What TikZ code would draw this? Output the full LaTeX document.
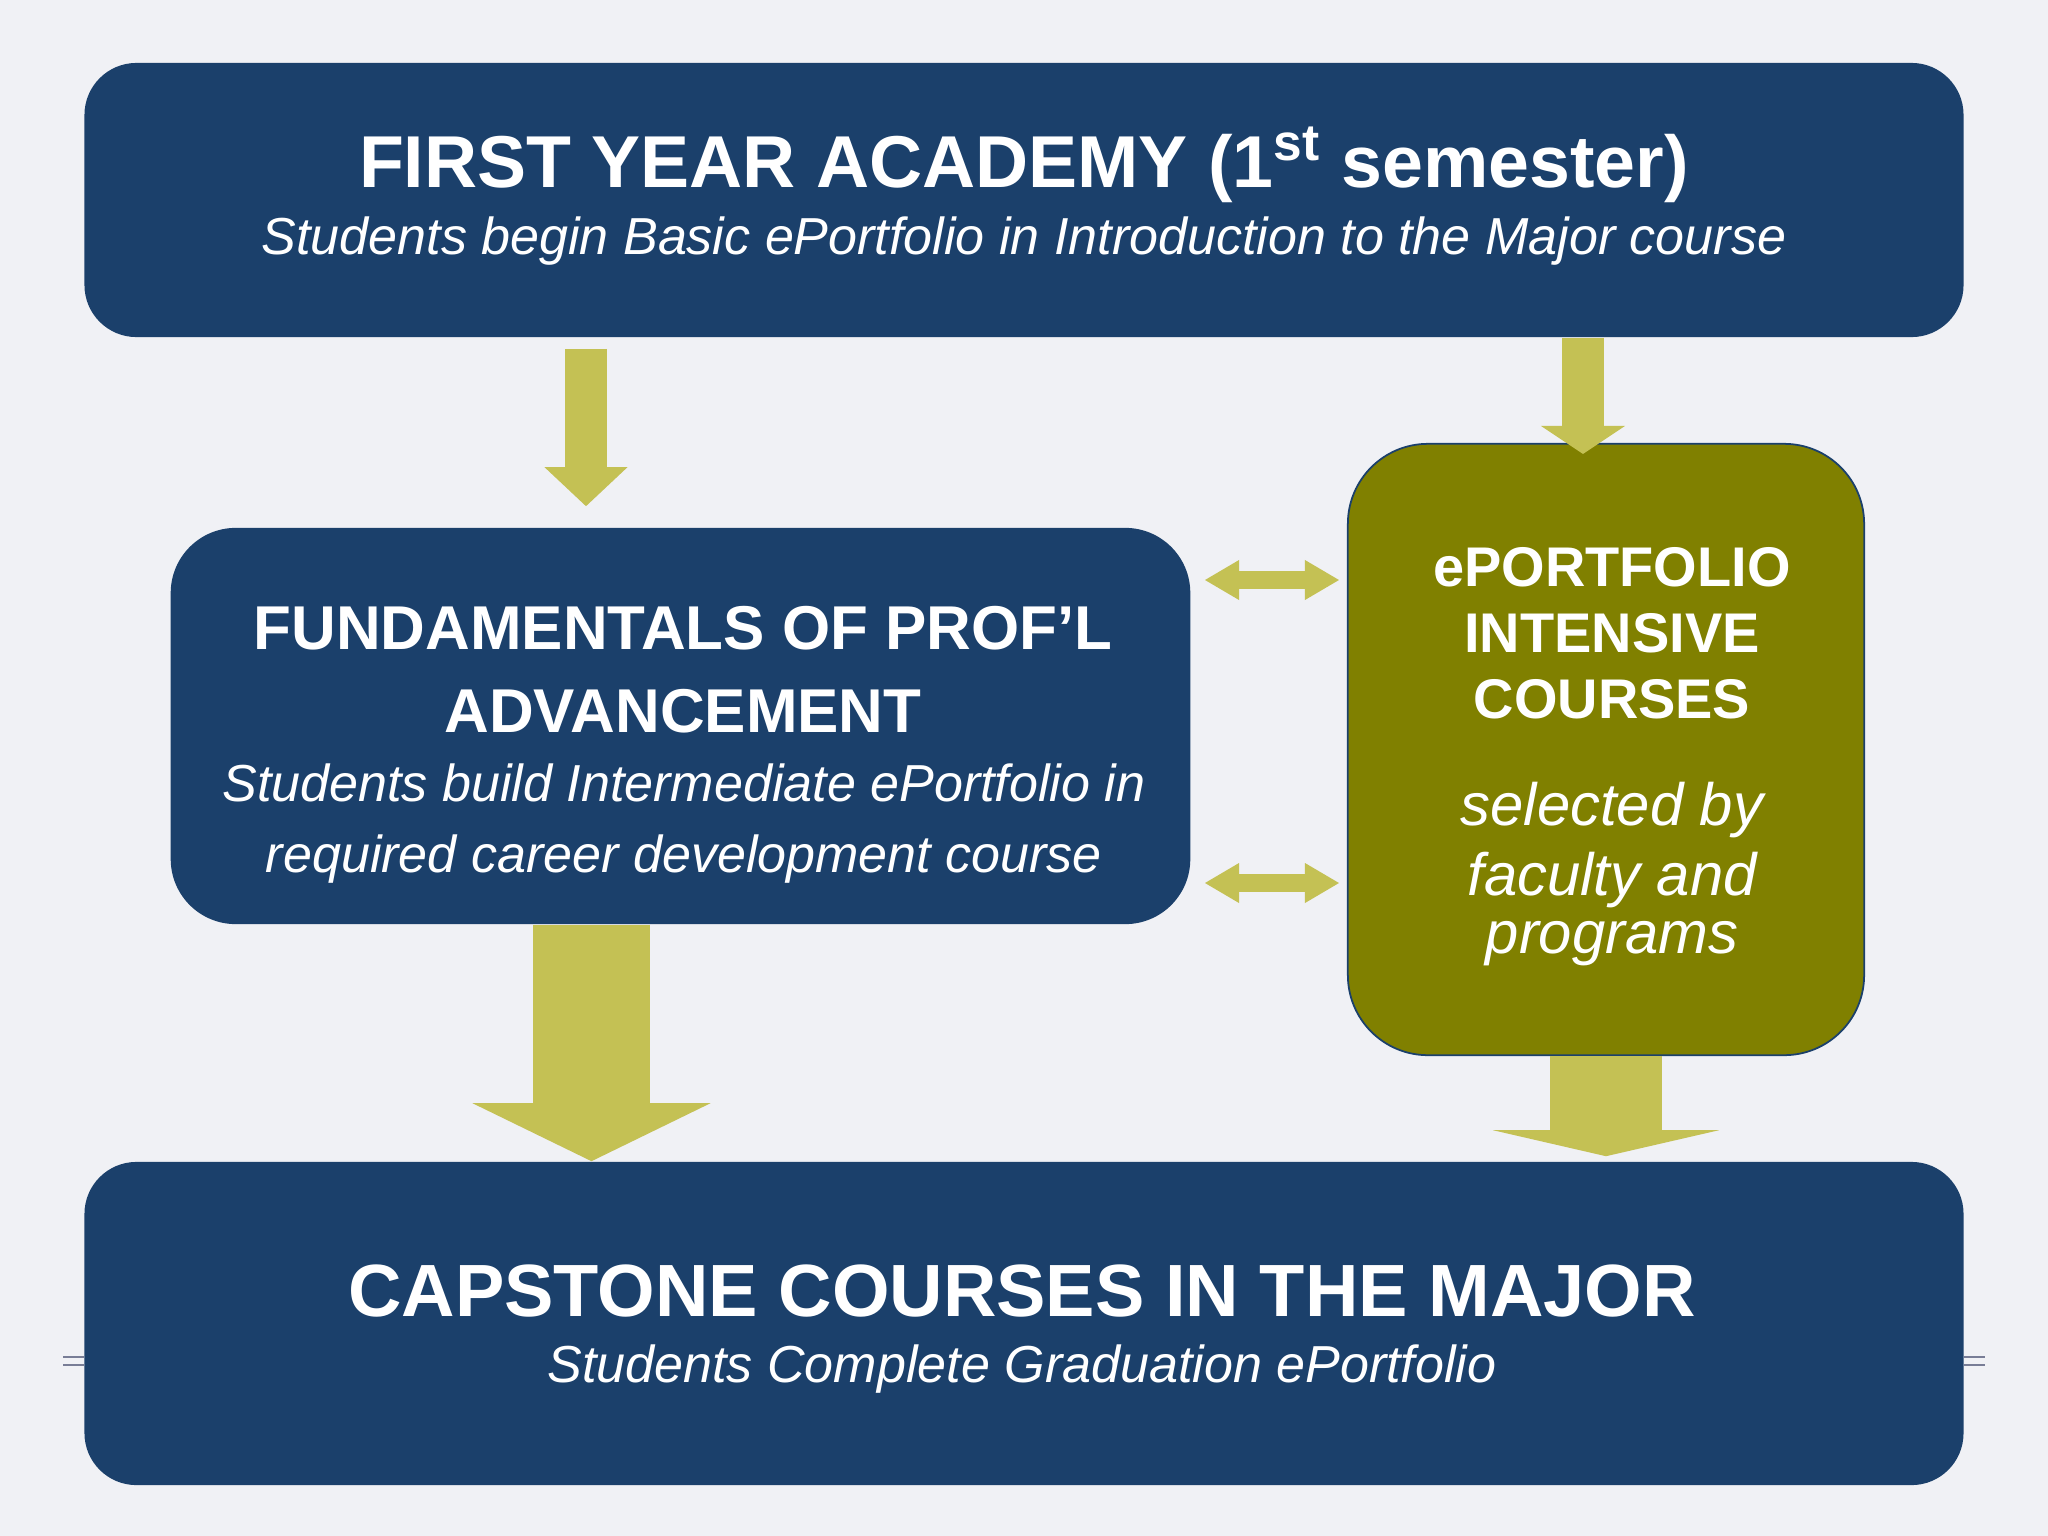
\documentclass[tikz,border=0pt]{standalone}
\usepackage{fontspec}
\setmainfont{Liberation Sans}
\usetikzlibrary{arrows.meta}

\definecolor{navy}{RGB}{27,64,107}
\definecolor{olivebox}{RGB}{128,128,0}
\definecolor{arrowgreen}{RGB}{196,193,84}
\definecolor{slidebg}{RGB}{240,241,245}
\definecolor{markgray}{RGB}{120,125,150}

\tikzset{
  bluebox/.style={fill=navy, inner sep=0pt},
  greenbox/.style={fill=olivebox, draw=navy, line width=0.5pt, inner sep=0pt, rounded corners=0.8cm},
  whitetext/.style={text=white, inner sep=0pt, anchor=base},
  fatarrow/.style n args={3}{draw=arrowgreen, line width=#1,
    -{Triangle[width=#2, length=#3, line width=0pt]}},
  twoway/.style={draw=arrowgreen, line width=0.18cm,
    {Triangle[width=0.4cm, length=0.34cm, line width=0pt]}-{Triangle[width=0.4cm, length=0.34cm, line width=0pt]}}
}

\begin{document}
\begin{tikzpicture}[x=0.01cm, y=-0.01cm]
    % Slide background
    \fill[slidebg] (0,0) rectangle (2048,1536);
    \useasboundingbox (0,0) rectangle (2048,1536);

    % Boxes
    \node[bluebox, rounded corners=0.52cm, minimum width=18.78cm, minimum height=2.74cm] (fya) at (1024,200) {};
    \node[bluebox, rounded corners=0.65cm, minimum width=10.19cm, minimum height=3.96cm] (fund) at (680.5,726) {};
    \node[greenbox, minimum width=5.16cm, minimum height=6.11cm] (eic) at (1606,749.5) {};
    \node[bluebox, rounded corners=0.52cm, minimum width=18.78cm, minimum height=3.23cm] (cap) at (1024,1323.5) {};

    % Small marks beside the bottom box
    \draw[markgray, line width=0.6pt] (63,1357) -- (cap.west |- 0,1357) (63,1365) -- (cap.west |- 0,1365);
    \draw[markgray, line width=0.6pt] (cap.east |- 0,1357) -- (1985,1357) (cap.east |- 0,1365) -- (1985,1365);

    % Texts
    \node[whitetext, font=\fontsize{20.9}{25}\selectfont\bfseries] (fyatitle) at (1024,187) {FIRST YEAR ACADEMY (1\textsuperscript{st} semester)};
    \node[whitetext, font=\fontsize{14.8}{18}\selectfont\itshape] (fyasub) at (1024,254) {Students begin Basic ePortfolio in Introduction to the Major course};

    \node[whitetext, font=\fontsize{17.6}{21}\selectfont\bfseries] (fundtitle) at (683,649) {FUNDAMENTALS OF PROF’L};
    \node[whitetext, font=\fontsize{17.6}{21}\selectfont\bfseries] (fundtitleb) at (683,732) {ADVANCEMENT};
    \node[whitetext, font=\fontsize{14.8}{18}\selectfont\itshape] (fundsub) at (684,801) {Students build Intermediate ePortfolio in};
    \node[whitetext, font=\fontsize{14.8}{18}\selectfont\itshape] (fundsubb) at (684,872) {required career development course};

    \node[whitetext, font=\fontsize{15.9}{19}\selectfont\bfseries] (eica) at (1612,586) {ePORTFOLIO};
    \node[whitetext, font=\fontsize{15.9}{19}\selectfont\bfseries] (eicb) at (1612,652) {INTENSIVE};
    \node[whitetext, font=\fontsize{15.9}{19}\selectfont\bfseries] (eicc) at (1612,718) {COURSES};
    \node[whitetext, font=\fontsize{17}{20}\selectfont\itshape] (eicd) at (1612,825) {selected by};
    \node[whitetext, font=\fontsize{17}{20}\selectfont\itshape] (eice) at (1612,895) {faculty and};
    \node[whitetext, font=\fontsize{17}{20}\selectfont\itshape] (eicf) at (1612,953) {programs};

    \node[whitetext, font=\fontsize{21.05}{25}\selectfont\bfseries] (captitle) at (1022,1316) {CAPSTONE COURSES IN THE MAJOR};
    \node[whitetext, font=\fontsize{14.8}{18}\selectfont\itshape] (capsub) at (1022,1382) {Students Complete Graduation ePortfolio};

    % Arrows
    \coordinate (a1) at (586,0);
    \coordinate (a2) at (1583,0);
    \coordinate (a4) at (591.5,0);
    \coordinate (d1) at (0,580);
    \coordinate (d2) at (0,883);
    \draw[fatarrow={0.42cm}{0.83cm}{0.39cm}, shorten <=0.11cm, shorten >=0.21cm] (fya.south -| a1) -- (fund.north -| a1);
    \draw[fatarrow={0.42cm}{0.84cm}{0.28cm}, shorten >=-0.11cm] (fya.south -| a2) -- (eic.north -| a2);
    \draw[fatarrow={1.17cm}{2.38cm}{0.58cm}] (fund.south -| a4) -- (cap.north -| a4);
    \draw[fatarrow={1.12cm}{2.26cm}{0.26cm}, shorten >=0.05cm] (eic.south) -- (cap.north -| eic.south);
    \draw[twoway, shorten <=0.14cm, shorten >=0.08cm] (fund.east |- d1) -- (eic.west |- d1);
    \draw[twoway, shorten <=0.14cm, shorten >=0.08cm] (fund.east |- d2) -- (eic.west |- d2);
  \end{tikzpicture}
\end{document}
